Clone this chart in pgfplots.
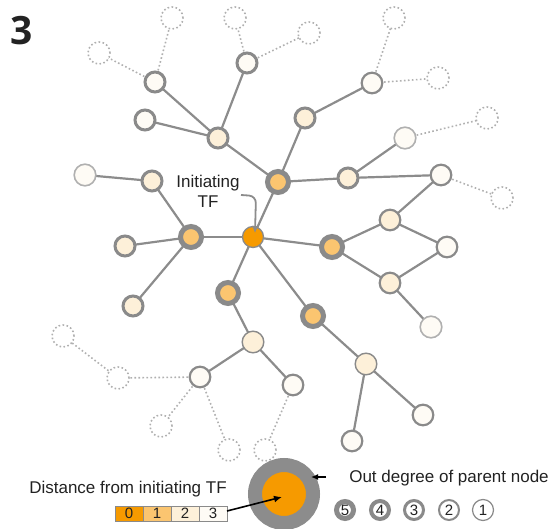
\documentclass[border=0pt]{standalone}
\usepackage{pgfplots}
\pgfplotsset{compat=1.18}
\usepackage{pgfplotstable}
\usepackage{fontspec}
\setmainfont{Liberation Sans}
\newfontfamily\panelfont{Open Sans}
\usetikzlibrary{arrows.meta}

\definecolor{dist0}{RGB}{246,154,0}
\definecolor{dist1}{RGB}{251,197,112}
\definecolor{dist2}{RGB}{253,240,217}
\definecolor{dist3}{RGB}{254,251,245}
\definecolor{ring}{RGB}{138,138,138}
\definecolor{edge}{RGB}{140,140,140}
\definecolor{faint}{RGB}{176,176,176}
\definecolor{ink}{RGB}{34,34,34}

% regulatory edges (parent -> child), pixel-like coordinates
\pgfplotstableread{
x1  y1  x2  y2
253 237 278 182
253 237 191 237
253 237 332 247
253 237 228 293
253 237 313 316
278 182 218 138
278 182 305 118
278 182 348 178
218 138 155 82
218 138 145 120
218 138 247 63
305 118 372 83
348 178 405 138
348 178 441 175
441 175 390 220
390 220 332 247
390 220 447 247
332 247 390 283
390 283 447 247
390 283 431 327
191 237 152 181
152 181 85  175
191 237 125 246
191 237 133 306
228 293 253 342
253 342 200 377
253 342 293 385
313 316 366 364
366 364 423 415
366 364 352 441
}\solidedges

% edges leading beyond the explored cascade
\pgfplotstableread{
x1  y1  x2  y2
155 82  99  53
155 82  172 18
247 63  235 18
247 63  309 33
372 83  394 18
372 83  438 78
405 138 487 118
441 175 502 198
200 377 118 378
118 378 63  336
200 377 161 426
200 377 229 450
293 385 265 450
}\dottededges

% out-degree legend glyphs
\pgfplotstableread{
x   y   n
345 510 5
380 510 4
414 510 3
449 510 2
483 510 1
}\degreekey

\pgfplotsset{
  tfnode/.style n args={4}{only marks, mark=*, mark size=#1,
    mark options={fill=#2, draw=#4, line width=#3, solid}},
}
\tikzset{
  lbl/.style={inner sep=0, text=ink, font=\fontsize{#1}{#1}\selectfont},
}

\begin{document}
\begin{tikzpicture}
\begin{axis}[
  scale only axis, width=554pt, height=528pt,
  xmin=0, xmax=554, ymin=0, ymax=528, y dir=reverse,
  hide axis, clip=false, set layers,
]
% edges
\addplot[draw=faint, line width=1.6pt, dash pattern=on 1.6pt off 2.4pt,
  quiver={u=\thisrow{x2}-\thisrow{x1}, v=\thisrow{y2}-\thisrow{y1}}]
  table[x=x1, y=y1] \dottededges;
\addplot[draw=edge, line width=2.2pt, line cap=round,
  quiver={u=\thisrow{x2}-\thisrow{x1}, v=\thisrow{y2}-\thisrow{y1}}]
  table[x=x1, y=y1] \solidedges;

% unexplored targets
\addplot[only marks, mark=*, mark size=11pt,
  mark options={fill=white, draw=faint, line width=1.6pt, dash pattern=on 1.6pt off 2.4pt}]
  coordinates {(99,53) (172,18) (235,18) (309,33) (394,18) (438,78) (487,118)
               (502,198) (63,336) (118,378) (161,426) (229,450) (265,450)};

% distance 3
\addplot[tfnode={10pt}{dist3}{3pt}{ring}] coordinates {(155,82) (145,120) (247,63)};
\addplot[tfnode={10.3pt}{dist3}{2.2pt}{ring}] coordinates {(372,83) (441,175) (447,247)
   (200,377) (293,385) (423,415) (352,441)};
\addplot[tfnode={10.8pt}{dist3}{1.6pt}{faint}] coordinates {(405,138) (85,175) (431,327)};
% distance 2
\addplot[tfnode={10pt}{dist2}{3pt}{ring}] coordinates {(218,138) (305,118) (348,178)
   (152,181) (125,246) (133,306)};
\addplot[tfnode={10.3pt}{dist2}{2.2pt}{ring}] coordinates {(390,220) (390,283)};
\addplot[tfnode={10.8pt}{dist2}{1.4pt}{ring}] coordinates {(253,342) (366,364)};
% distance 1
\addplot[tfnode={10.5pt}{dist1}{5pt}{ring}] coordinates {(278,182) (191,237) (332,247)
   (228,293) (313,316)};
% initiating TF
\addplot[tfnode={10.5pt}{dist0}{1.3pt}{ring}] coordinates {(253,237)};

\node[lbl=17, anchor=base] at (axis cs:208,188) {Initiating};
\node[lbl=17, anchor=base] at (axis cs:208,208) {TF};
\addplot[on layer=axis foreground, edge, line width=1.8pt, rounded corners=7pt,
  -{Latex[length=7pt,width=7pt]}] coordinates {(241,195) (256,196) (255,233)};

% legend: distance scale
\addplot[fill=dist0, draw=ring, line width=0.8pt] coordinates {(115,506) (143,506) (143,521) (115,521)} -- cycle;
\addplot[fill=dist1, draw=ring, line width=0.8pt] coordinates {(143,506) (171,506) (171,521) (143,521)} -- cycle;
\addplot[fill=dist2, draw=ring, line width=0.8pt] coordinates {(171,506) (199,506) (199,521) (171,521)} -- cycle;
\addplot[fill=dist3, draw=ring, line width=0.8pt] coordinates {(199,506) (227,506) (227,521) (199,521)} -- cycle;
\node[lbl=15] at (axis cs:129,513.5) {0};
\node[lbl=15] at (axis cs:157,513.5) {1};
\node[lbl=15] at (axis cs:185,513.5) {2};
\node[lbl=15] at (axis cs:213,513.5) {3};
\node[lbl=17, anchor=base] at (axis cs:128,493) {Distance from initiating TF};

% legend: node glyph
\addplot[tfnode={29pt}{dist0}{14pt}{edge}] coordinates {(284,494)};
\addplot[on layer=axis foreground, black, line width=1.6pt, -{Latex[length=8pt,width=7pt]}] coordinates {(227,511) (282,497)};
\addplot[on layer=axis foreground, black, line width=1.6pt, -{Latex[length=7pt,width=6pt]}] coordinates {(326,477) (311,477)};

% legend: out degree
\node[lbl=17, anchor=base] at (axis cs:449,482) {Out degree of parent node};
\addplot[tfnode={8.5pt}{white}{5pt}{ring}] coordinates {(345,510)};
\addplot[tfnode={9pt}{white}{4pt}{ring}] coordinates {(380,510)};
\addplot[tfnode={9.5pt}{white}{3pt}{ring}] coordinates {(414,510)};
\addplot[tfnode={10pt}{white}{2pt}{ring}] coordinates {(449,510)};
\addplot[tfnode={10.5pt}{white}{1.2pt}{ring}] coordinates {(483,510)};
\addplot[on layer=axis foreground, only marks, mark=none,
  point meta=explicit symbolic, nodes near coords,
  nodes near coords style={inner sep=0, text=ink, anchor=center,
    font=\fontsize{15}{15}\selectfont}]
  table[meta=n] \degreekey;

% panel label
\node[anchor=base west, inner sep=0, text=ink, font=\panelfont\bfseries\fontsize{39}{44}\selectfont] at (axis cs:10,45) {3};
\end{axis}
\pgfresetboundingbox
\path (current axis.south west) rectangle (current axis.north east);
\end{tikzpicture}
\end{document}
